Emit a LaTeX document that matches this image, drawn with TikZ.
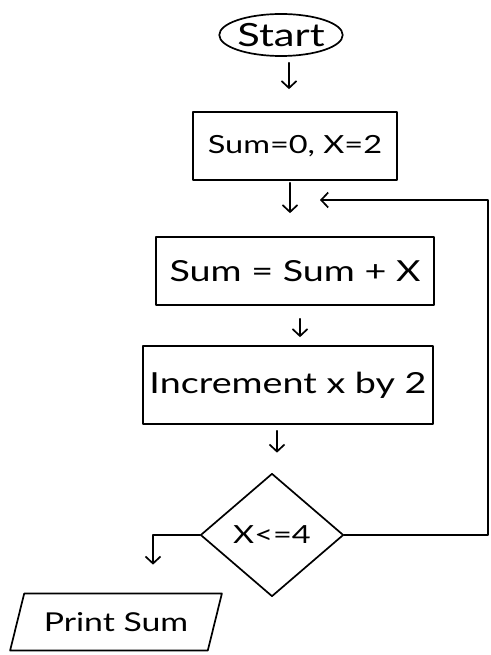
\documentclass[tikz,border=0pt]{standalone}
\usepackage{fontspec}
\setmainfont{Lato}
\newfontfamily\handfont[FakeStretch=1.3]{Lato}
\usetikzlibrary{shapes.geometric,arrows.meta,calc}
\newcommand{\fsz}[1]{\fontsize{#1}{#1}\selectfont}
\tikzset{
  ink/.style={draw=black, line width=1.7pt, line join=round, line cap=round},
  txt/.style={font=\handfont, inner sep=0pt},
  procbox/.style={ink, txt, rectangle},
  arr/.style={ink, -{Straight Barb[length=7pt, width=15pt, line width=1.7pt]}}
}
\begin{document}
\begin{tikzpicture}[x=1pt, y=-1pt]
  \useasboundingbox (0,0) rectangle (490,655);

  % terminal
  \node[ink, txt, ellipse, minimum width=123pt, minimum height=42pt] (start) at (281,35) {\fsz{32}Start};

  % process steps
  \node[procbox, minimum width=204pt, minimum height=68pt] (init) at (295,146) {\fsz{25}Sum=0, X=2};
  \node[procbox, minimum width=278pt, minimum height=68pt] (add) at (295,271) {\fsz{29}Sum = Sum + X};
  \node[procbox, minimum width=290pt, minimum height=78pt] (inc) at (288,385) {\fsz{29}Increment x by 2};

  % decision
  \node[ink, txt, diamond, aspect=1.16, minimum width=143pt, minimum height=123pt] (dec) at (272,535) {\fsz{25}X<=4};

  % output
  \node[ink, txt, trapezium, trapezium left angle=60, trapezium right angle=120,
        minimum width=212pt, minimum height=57pt, trapezium stretches=true] (out) at (116,622) {\fsz{26}Print Sum};

  % connectors
  \draw[arr, shorten <=6pt, shorten >=22pt] ([xshift=8pt]start.south) -- ([xshift=8pt]start.south |- init.north);
  \draw[arr, shorten <=2pt, shorten >=23pt] ([xshift=-5pt]init.south) -- ([xshift=-5pt]init.south |- add.north);
  \draw[arr, shorten <=13pt, shorten >=8pt] ([xshift=5pt]add.south) -- ([xshift=5pt]add.south |- inc.north);
  \draw[arr, shorten <=6pt, shorten >=20pt] ([xshift=-11pt]inc.south) -- ([xshift=-11pt]inc.south |- dec.north);

  % exit branch
  \coordinate (yesturn) at (153,535);
  \draw[arr, shorten >=28pt] (dec.west) -- (yesturn) -- (yesturn |- out.north);

  % loop back
  \coordinate (loopR) at (488,535);
  \coordinate (loopT) at (488,200);
  \draw[arr, shorten >=25pt] (dec.east) -- (loopR) -- (loopT) -- (loopT -| add.north);
\end{tikzpicture}
\end{document}
